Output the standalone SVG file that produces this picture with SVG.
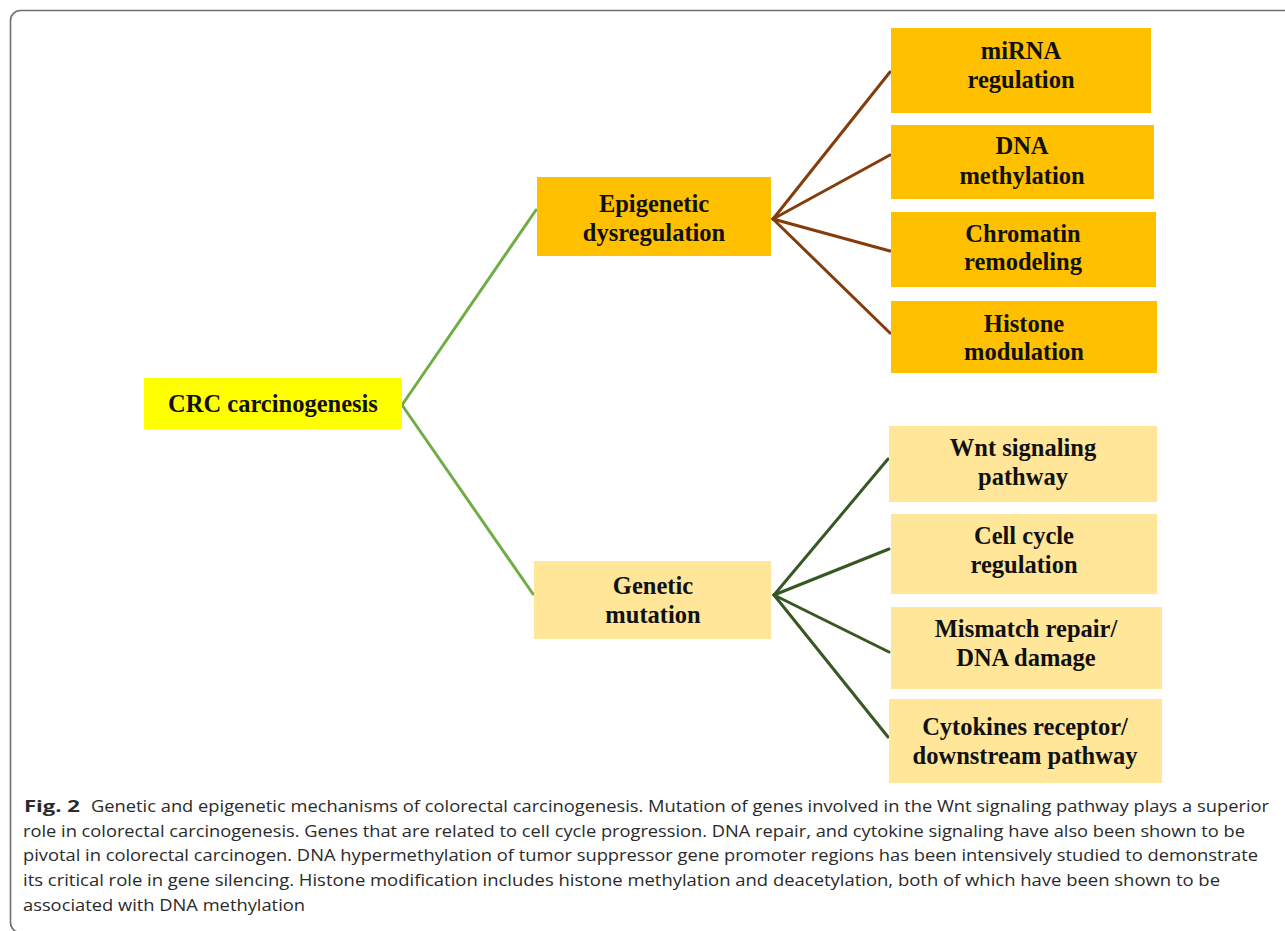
<svg xmlns="http://www.w3.org/2000/svg" width="1285" height="931" viewBox="0 0 1285 931">
<style>
.frame{fill:none;stroke:#707070;stroke-width:1.6}
.crc{fill:#FFFF00}
.epi{fill:#FFC000}
.gen{fill:#FFE699}
.lbl{font-family:"Liberation Serif","Times New Roman",serif;font-weight:bold;font-size:24.5px;fill:#111;text-anchor:middle}
.c1{stroke:#70AD47;stroke-width:3;fill:none;stroke-linecap:round}
.c2{stroke:#843C0C;stroke-width:3;fill:none;stroke-linecap:round}
.c3{stroke:#385723;stroke-width:3;fill:none;stroke-linecap:round}
.cap{font-family:"Open Sans","Noto Sans","Liberation Sans",sans-serif;font-size:16.5px;fill:#2a2a2a}
.capb{font-weight:bold}
</style>
<rect class="frame" x="10.5" y="10.5" width="1300" height="922" rx="10" ry="10"/>
<g id="connectors">
<line class="c1" x1="402" y1="405" x2="536" y2="210"/>
<line class="c1" x1="402" y1="405" x2="533" y2="594"/>
<line class="c2" x1="773" y1="219" x2="890" y2="72"/>
<line class="c2" x1="773" y1="219" x2="890" y2="155"/>
<line class="c2" x1="773" y1="219" x2="890" y2="251"/>
<line class="c2" x1="773" y1="219" x2="890" y2="333"/>
<line class="c3" x1="774" y1="595" x2="888" y2="459"/>
<line class="c3" x1="774" y1="595" x2="889" y2="549"/>
<line class="c3" x1="774" y1="595" x2="889" y2="652"/>
<line class="c3" x1="774" y1="595" x2="888" y2="737"/>
</g>
<g id="crc">
<rect class="crc" x="144" y="378" width="258" height="51"/>
<text class="lbl" x="273" y="412">CRC carcinogenesis</text>
</g>
<g id="epigenetic">
<rect class="epi" x="537" y="177" width="234" height="79"/>
<text class="lbl" x="654" y="212">Epigenetic</text>
<text class="lbl" x="654" y="241">dysregulation</text>
</g>
<g id="mirna">
<rect class="epi" x="891" y="28" width="260" height="85"/>
<text class="lbl" x="1021" y="59">miRNA</text>
<text class="lbl" x="1021" y="88">regulation</text>
</g>
<g id="dnameth">
<rect class="epi" x="891" y="125" width="263" height="74"/>
<text class="lbl" x="1022" y="154">DNA</text>
<text class="lbl" x="1022" y="184">methylation</text>
</g>
<g id="chromatin">
<rect class="epi" x="891" y="212" width="265" height="75"/>
<text class="lbl" x="1023" y="242">Chromatin</text>
<text class="lbl" x="1023" y="270">remodeling</text>
</g>
<g id="histone">
<rect class="epi" x="891" y="301" width="266" height="72"/>
<text class="lbl" x="1024" y="332">Histone</text>
<text class="lbl" x="1024" y="360">modulation</text>
</g>
<g id="genetic">
<rect class="gen" x="534" y="561" width="237" height="78"/>
<text class="lbl" x="653" y="594">Genetic</text>
<text class="lbl" x="653" y="623">mutation</text>
</g>
<g id="wnt">
<rect class="gen" x="889" y="426" width="268" height="76"/>
<text class="lbl" x="1023" y="456">Wnt signaling</text>
<text class="lbl" x="1023" y="485">pathway</text>
</g>
<g id="cellcycle">
<rect class="gen" x="891" y="514" width="266" height="80"/>
<text class="lbl" x="1024" y="544">Cell cycle</text>
<text class="lbl" x="1024" y="573">regulation</text>
</g>
<g id="mismatch">
<rect class="gen" x="891" y="607" width="271" height="82"/>
<text class="lbl" x="1026" y="637">Mismatch repair/</text>
<text class="lbl" x="1026" y="666">DNA damage</text>
</g>
<g id="cytokines">
<rect class="gen" x="889" y="699" width="273" height="84"/>
<text class="lbl" x="1025" y="735">Cytokines receptor/</text>
<text class="lbl" x="1025" y="764">downstream pathway</text>
</g>
<g id="caption">
<text class="cap capb" x="24" y="812" textLength="56" lengthAdjust="spacingAndGlyphs">Fig. 2</text>
<text class="cap" x="91" y="812" textLength="1178" lengthAdjust="spacingAndGlyphs">Genetic and epigenetic mechanisms of colorectal carcinogenesis. Mutation of genes involved in the Wnt signaling pathway plays a superior</text>
<text class="cap" x="23" y="837" textLength="1222" lengthAdjust="spacingAndGlyphs">role in colorectal carcinogenesis. Genes that are related to cell cycle progression. DNA repair, and cytokine signaling have also been shown to be</text>
<text class="cap" x="23" y="861" textLength="1235" lengthAdjust="spacingAndGlyphs">pivotal in colorectal carcinogen. DNA hypermethylation of tumor suppressor gene promoter regions has been intensively studied to demonstrate</text>
<text class="cap" x="23" y="886" textLength="1197" lengthAdjust="spacingAndGlyphs">its critical role in gene silencing. Histone modification includes histone methylation and deacetylation, both of which have been shown to be</text>
<text class="cap" x="23" y="911" textLength="282" lengthAdjust="spacingAndGlyphs">associated with DNA methylation</text>
</g>
</svg>
